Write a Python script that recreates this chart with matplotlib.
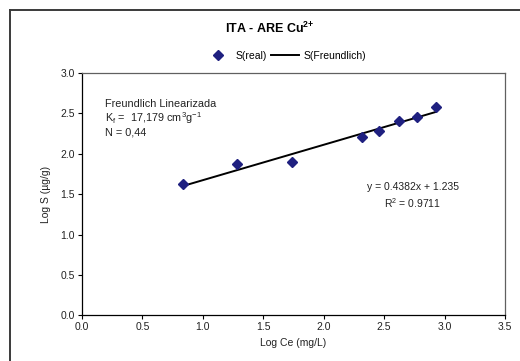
import matplotlib
matplotlib.use("Agg")
import matplotlib.pyplot as plt
from matplotlib.lines import Line2D

plt.rcParams['font.family'] = ['Liberation Sans', 'DejaVu Sans']
plt.rcParams['mathtext.fontset'] = 'custom'
plt.rcParams['mathtext.rm'] = 'Liberation Sans'
plt.rcParams['mathtext.it'] = 'Liberation Sans:italic'
plt.rcParams['mathtext.bf'] = 'Liberation Sans:bold'

# Log Ce (mg/L) and Log S (ug/g) measurements
log_ce = [0.838, 1.286, 1.738, 2.313, 2.459, 2.622, 2.774, 2.928]
log_s = [1.623, 1.871, 1.896, 2.213, 2.288, 2.404, 2.457, 2.580]

# Linear Freundlich fit
slope = 0.4382
intercept = 1.235
r2 = 0.9711

x_ticks = [0.0, 0.5, 1.0, 1.5, 2.0, 2.5, 3.0, 3.5]
y_ticks = [0.0, 0.5, 1.0, 1.5, 2.0, 2.5, 3.0]

FS = 7.5
TXT = '#222222'

W, H = 520, 361
fig = plt.figure(figsize=(W / 100, H / 100), dpi=100)
fig.patch.set_facecolor('white')

# outer chart frame (left and top edges visible)
fig.add_artist(Line2D([10 / W, 10 / W], [0, 1 - 10 / H], transform=fig.transFigure,
                      color='#3a3a3a', lw=1.4))
fig.add_artist(Line2D([10 / W, 1], [1 - 10 / H, 1 - 10 / H], transform=fig.transFigure,
                      color='#3a3a3a', lw=1.4))

ax = fig.add_axes([82 / W, 1 - 315.3 / H, (505 - 82) / W, (315.3 - 73) / H])

fit_x = [min(log_ce), max(log_ce)]
fit_y = [slope * v + intercept for v in fit_x]

pts, = ax.plot(log_ce, log_s, linestyle='none', marker='D', markersize=5,
               color='#1f2080', markeredgecolor='#1f2080', zorder=3)
line, = ax.plot(fit_x, fit_y, color='black', lw=1.4, zorder=2)

ax.set_xlim(0, 3.5)
ax.set_ylim(0, 3.0)
ax.set_xticks(x_ticks)
ax.set_yticks(y_ticks)
ax.set_xticklabels([f'{v:.1f}' for v in x_ticks])
ax.set_yticklabels([f'{v:.1f}' for v in y_ticks])
ax.tick_params(direction='out', length=3, width=0.8, labelsize=FS,
               colors='black', labelcolor=TXT, pad=2)

for side in ['left', 'bottom']:
    ax.spines[side].set_color('black')
    ax.spines[side].set_linewidth(0.9)
for side in ['top', 'right']:
    ax.spines[side].set_color('#606060')
    ax.spines[side].set_linewidth(0.9)

ax.set_xlabel('Log Ce (mg/L)', fontsize=FS, labelpad=4, color=TXT)
ax.set_ylabel('Log S (µg/g)', fontsize=FS, labelpad=7, color=TXT)

fig.text(270 / W, 1 - 28 / H, r'ITA - ARE Cu$^{\mathbf{2{+}}}$', ha='center', va='center',
         fontsize=9, fontweight='bold')

fig.legend([pts, line], ['S(real)', 'S(Freundlich)'], loc='center',
           bbox_to_anchor=(285 / W, 1 - 56 / H), ncol=2, frameon=False,
           fontsize=FS, handlelength=2.6, columnspacing=0.4, handletextpad=0.45,
           borderaxespad=0)

ax.text(105 / W, 1 - 104 / H, 'Freundlich Linearizada', transform=fig.transFigure,
        fontsize=7.8, va='center', ha='left', color=TXT)
ax.text(105 / W, 1 - 118 / H, r'K$_{\mathrm{f}}$ =  17,179 cm$^{3}$g$^{-1}$',
        transform=fig.transFigure, fontsize=7.8, va='center', ha='left', color=TXT)
ax.text(105 / W, 1 - 132 / H, 'N = 0,44', transform=fig.transFigure,
        fontsize=7.8, va='center', ha='left', color=TXT)

ax.text(413 / W, 1 - 187 / H, f'y = {slope}x + {intercept}', transform=fig.transFigure,
        fontsize=FS, va='center', ha='center', color=TXT)
ax.text(413 / W, 1 - 203 / H, f'R$^{{2}}$ = {r2}', transform=fig.transFigure,
        fontsize=FS, va='center', ha='center', color=TXT)

fig.savefig('out.png', dpi=100, facecolor='white')
